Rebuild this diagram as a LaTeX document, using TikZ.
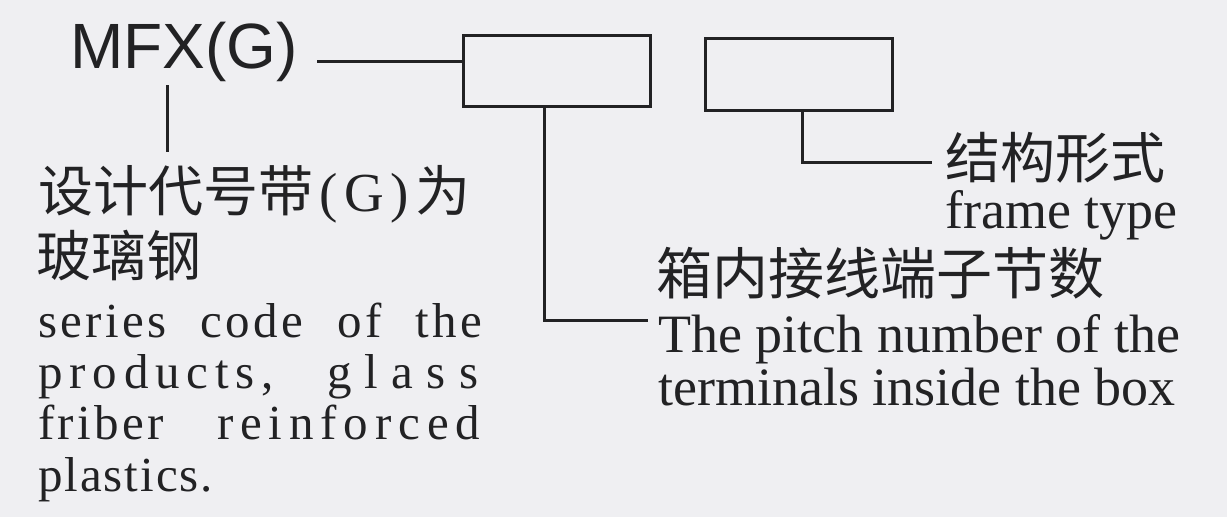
\documentclass[tikz,border=0pt]{standalone}
\usepackage{fontspec}
\setmainfont{Liberation Serif}
\newfontfamily\headfont{Liberation Sans}
\newfontfamily\cjk{Noto Sans CJK SC}
\usetikzlibrary{positioning,calc}

\definecolor{paper}{RGB}{239,239,242}
\definecolor{ink}{RGB}{34,34,36}

\newcommand{\tracked}[2]{{\addfontfeature{LetterSpace=#1}#2}}

\begin{document}
\begin{tikzpicture}[
    x=1pt, y=-1pt,
    codebox/.style={rectangle, draw=ink, line width=3pt, minimum width=187pt, minimum height=71pt, inner sep=0pt},
    lead/.style={draw=ink, line width=3pt},
    cntext/.style={inner sep=0pt, anchor=base west, text=ink, font=\cjk\fontsize{55}{58}\selectfont},
    entext/.style={inner sep=0pt, anchor=base west, text=ink, font=\fontsize{54}{53}\selectfont},
    spaced/.style={inner sep=0pt, anchor=base west, text=ink, font=\fontsize{49}{50}\selectfont}
]
% background
\fill[paper] (0,0) rectangle (1227,517);

% code and boxes
\node[inner sep=0pt, anchor=base west, text=ink, font=\headfont\fontsize{64}{64}\selectfont] (mfx) at (70,68) {MFX(G)};
\node[codebox] (box1) at (556.5,70.5) {};
\node[codebox, minimum height=72pt] (box2) at (798.5,74) {};

% left labels
\node[cntext] (seriescn) at (38,211)
    {设计代号带\makebox[102pt][s]{\rmfamily\hfil(\hfil G\hfil)\hfil}为};
\node[cntext] (seriescn2) at (36,276) {玻璃钢};
\node[spaced] (seriesen) at (38,337) {\makebox[444pt][s]{\tracked{7}{series code of the}}};
\node[spaced] (seriesen2) at (38,388) {\makebox[440pt][s]{\tracked{14}{products,} \tracked{27}{glass}}};
\node[spaced] (seriesen3) at (38,439) {\makebox[442pt][s]{\tracked{7}{friber} \tracked{14}{reinforced}}};
\node[spaced] (seriesen4) at (38,491) {\tracked{4}{plastics.}};

% right labels
\node[cntext, font=\cjk\fontsize{56}{58}\selectfont] (pitchcn) at (656,294) {箱内接线端子节数};
\node[entext] (pitchen) at (658,352) {The pitch number of the};
\node[entext] (pitchen2) at (658,405) {terminals inside the box};
\node[cntext] (framecn) at (945,178) {结构形式};
\node[entext] (frameen) at (945,228) {frame type};

% connectors
\coordinate (tie) at (317,61);
\coordinate (drop0) at (167,85);
\coordinate (foot0) at (167,152);
\coordinate (knee1) at (544,320);
\coordinate (end1) at (648,320);
\coordinate (knee2) at (802,162);
\coordinate (end2) at (932,162);

\draw[lead] (tie) -- (tie -| box1.west);
\draw[lead] (drop0) -- (foot0);
\draw[lead] (box1.south -| knee1) -- (knee1) -- (end1);
\draw[lead] (box2.south -| knee2) -- (knee2) -- (end2);

\end{tikzpicture}
\end{document}
